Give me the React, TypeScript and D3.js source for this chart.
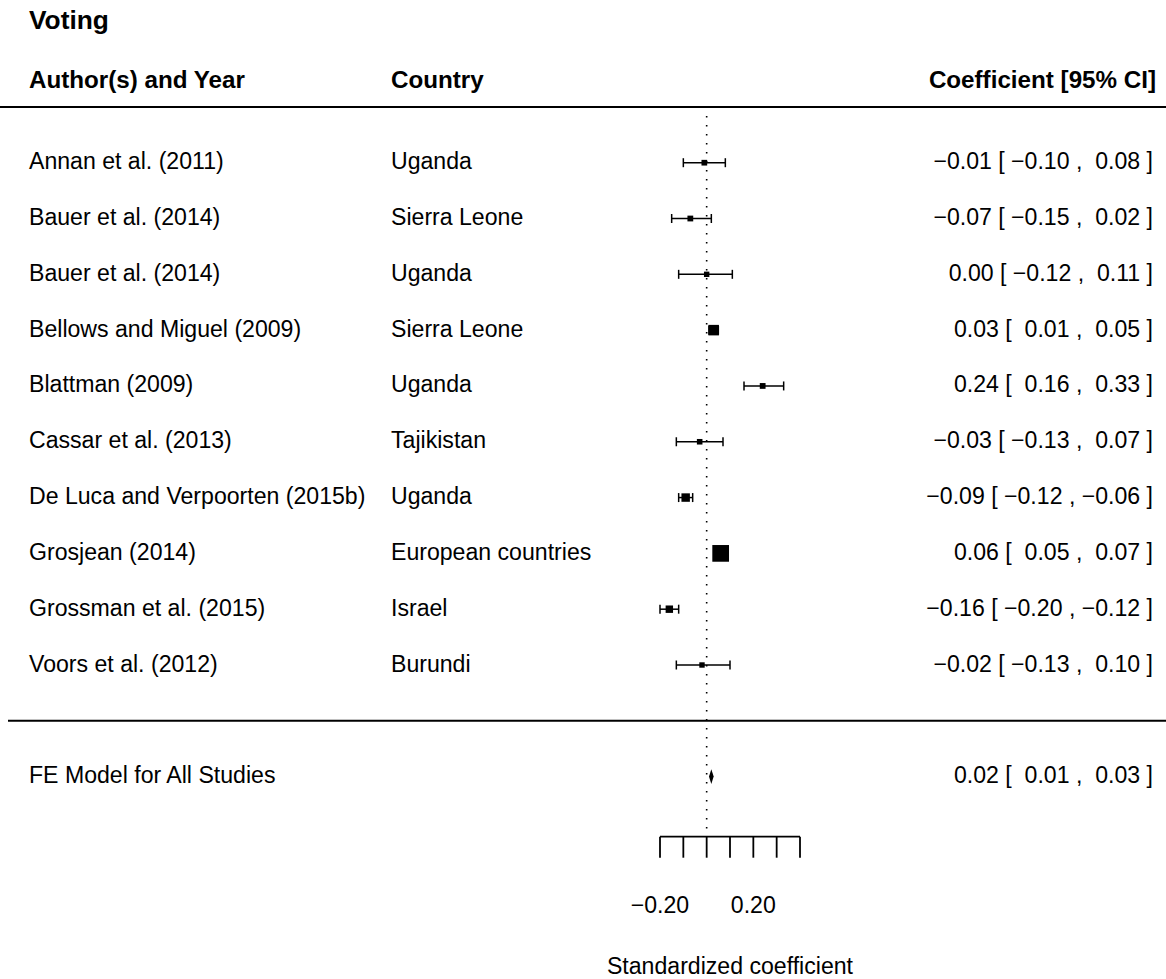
import React from "react";
import * as d3 from "d3";

const authors = [
  "Annan et al. (2011)",
  "Bauer et al. (2014)",
  "Bauer et al. (2014)",
  "Bellows and Miguel (2009)",
  "Blattman (2009)",
  "Cassar et al. (2013)",
  "De Luca and Verpoorten (2015b)",
  "Grosjean (2014)",
  "Grossman et al. (2015)",
  "Voors et al. (2012)",
];
const countries = [
  "Uganda",
  "Sierra Leone",
  "Uganda",
  "Sierra Leone",
  "Uganda",
  "Tajikistan",
  "Uganda",
  "European countries",
  "Israel",
  "Burundi",
];
const estimates = [-0.01, -0.07, 0.0, 0.03, 0.24, -0.03, -0.09, 0.06, -0.16, -0.02];
const lower = [-0.1, -0.15, -0.12, 0.01, 0.16, -0.13, -0.12, 0.05, -0.2, -0.13];
const upper = [0.08, 0.02, 0.11, 0.05, 0.33, 0.07, -0.06, 0.07, -0.12, 0.1];

const summaryLabel = "FE Model for All Studies";
const summary = { est: 0.02, lb: 0.01, ub: 0.03 };

const axisTicks = [-0.2, -0.1, 0, 0.1, 0.2, 0.3, 0.4];
const axisTickLabels = [
  { v: -0.2, t: "\u22120.20" },
  { v: 0.2, t: "0.20" },
];

const title = "Voting";
const headers = ["Author(s) and Year", "Country", "Coefficient [95% CI]"];
const xLabel = "Standardized coefficient";

const W = 1166;
const H = 979;
const FONT = "'Liberation Sans', Arial, Helvetica, sans-serif";

function pad(v: number) {
  return (v < 0 ? "\u2212" : " ") + Math.abs(v).toFixed(2);
}
function est(v: number) {
  return (v < 0 ? "\u2212" : "") + Math.abs(v).toFixed(2);
}
function annot(e: number, l: number, u: number) {
  return `${est(e)} [ ${pad(l)} , ${pad(u)} ]`;
}

export default function App() {
  const k = authors.length;
  const x = d3.scaleLinear().domain([-0.2, 0.4]).range([660, 800]);
  const y = d3.scaleLinear().domain([k, 1]).range([162.7, 665]);

  const prec = lower.map((l, i) => 1 / (upper[i] - l));
  const size = d3
    .scaleLinear()
    .domain([d3.min(prec) as number, d3.max(prec) as number])
    .range([5.4, 16.7]);

  const axisY = 836.7;
  const fs = 23.1;
  const hfs = 24.2;
  const textStyle: React.CSSProperties = { whiteSpace: "pre" };

  return (
    <svg
      width={W}
      height={H}
      style={{ position: "absolute", left: 0, top: 0, display: "block", background: "#fff" }}
      fontFamily={FONT}
    >
      <rect x={0} y={0} width={W} height={H} fill="#fff" />
      <text x={29} y={28.5} fontSize={26.3} fontWeight="bold">
        {title}
      </text>
      <text x={29} y={87.5} fontSize={hfs} fontWeight="bold">
        {headers[0]}
      </text>
      <text x={391} y={87.5} fontSize={hfs} fontWeight="bold">
        {headers[1]}
      </text>
      <text x={1156} y={87.5} fontSize={hfs} fontWeight="bold" textAnchor="end">
        {headers[2]}
      </text>

      <line x1={0} x2={W} y1={y(k + 1)} y2={y(k + 1)} stroke="#000" strokeWidth={2} />
      <line x1={8} x2={W} y1={y(0)} y2={y(0)} stroke="#000" strokeWidth={2} />

      <line
        x1={x(0)}
        x2={x(0)}
        y1={116}
        y2={axisY}
        stroke="#000"
        strokeWidth={1.6}
        strokeDasharray="1.6 7.4"
      />

      {authors.map((a, i) => {
        const row = k - i;
        const yy = y(row);
        const s = size(prec[i]);
        return (
          <g key={i}>
            <text x={29} y={yy + 6.5} fontSize={fs} style={textStyle}>
              {a}
            </text>
            <text x={391} y={yy + 6.5} fontSize={fs} style={textStyle}>
              {countries[i]}
            </text>
            <text x={1153} y={yy + 6.5} fontSize={fs} textAnchor="end" style={textStyle}>
              {annot(estimates[i], lower[i], upper[i])}
            </text>
            <line x1={x(lower[i])} x2={x(upper[i])} y1={yy} y2={yy} stroke="#000" strokeWidth={1.5} />
            <line x1={x(lower[i])} x2={x(lower[i])} y1={yy - 4.5} y2={yy + 4.5} stroke="#000" strokeWidth={1.5} />
            <line x1={x(upper[i])} x2={x(upper[i])} y1={yy - 4.5} y2={yy + 4.5} stroke="#000" strokeWidth={1.5} />
            <rect x={x(estimates[i]) - s / 2} y={yy - s / 2} width={s} height={s} fill="#000" />
          </g>
        );
      })}

      {(() => {
        const yy = y(-1);
        const pts = [
          [x(summary.lb), yy],
          [x(summary.est), yy - 7.3],
          [x(summary.ub), yy],
          [x(summary.est), yy + 7.3],
        ];
        return (
          <g>
            <text x={29} y={yy + 6.5} fontSize={fs}>
              {summaryLabel}
            </text>
            <text x={1153} y={yy + 6.5} fontSize={fs} textAnchor="end" style={textStyle}>
              {annot(summary.est, summary.lb, summary.ub)}
            </text>
            <polygon points={pts.map((p) => p.join(",")).join(" ")} fill="#000" />
          </g>
        );
      })()}

      <line x1={x(-0.2)} x2={x(0.4)} y1={axisY} y2={axisY} stroke="#000" strokeWidth={1.8} />
      {axisTicks.map((t) => (
        <line key={t} x1={x(t)} x2={x(t)} y1={axisY} y2={axisY + 21} stroke="#000" strokeWidth={1.8} />
      ))}
      {axisTickLabels.map((t) => (
        <text key={t.v} x={x(t.v)} y={912.5} fontSize={fs} textAnchor="middle">
          {t.t}
        </text>
      ))}
      <text x={x(0.1)} y={974} fontSize={fs} textAnchor="middle">
        {xLabel}
      </text>
    </svg>
  );
}
